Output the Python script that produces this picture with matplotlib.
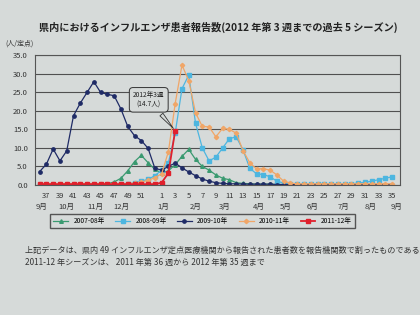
import matplotlib
matplotlib.use("Agg")
import matplotlib.pyplot as plt
from matplotlib.transforms import blended_transform_factory

plt.rcParams['font.family'] = ['Noto Sans CJK JP', 'DejaVu Sans']

# weeks 36..53 then 1..35
weeks = list(range(36, 54)) + list(range(1, 36))

s0708 = [0.1, 0.1, 0.1, 0.1, 0.1, 0.1, 0.1, 0.1, 0.2, 0.2,
         0.3, 0.8, 1.8, 3.8, 6.3, 8.0, 6.0, 4.2, 3.2, 3.8,
         5.5, 7.7, 9.6, 6.9, 5.0, 4.0, 2.7, 1.8, 1.4, 0.6,
         0.4, 0.3, 0.2, 0.2, 0.2, 0.1, 0.1, 0.1, 0.1, 0.1,
         0.1, 0.1, 0.1, 0.1, 0.1, 0.1, 0.1, 0.1, 0.1, 0.1,
         0.1, 0.1, 0.1]
s0809 = [0.1, 0.1, 0.1, 0.1, 0.1, 0.1, 0.1, 0.1, 0.1, 0.1,
         0.1, 0.1, 0.2, 0.3, 0.5, 1.0, 1.5, 2.5, 4.0, 6.0,
         14.0, 26.0, 29.7, 16.7, 10.0, 6.5, 7.5, 10.0, 12.5, 13.0,
         9.5, 4.5, 3.0, 2.8, 2.2, 1.0, 0.5, 0.3, 0.2, 0.2,
         0.2, 0.2, 0.2, 0.2, 0.2, 0.2, 0.3, 0.5, 0.7, 1.0,
         1.4, 1.8, 2.2]
s0910 = [3.6, 5.6, 9.7, 6.5, 9.2, 18.7, 22.1, 25.0, 27.9, 25.0,
         24.5, 24.1, 20.5, 15.8, 13.3, 12.0, 9.9, 4.5, 4.0, 5.0,
         5.9, 4.6, 3.5, 2.5, 1.6, 1.0, 0.6, 0.4, 0.3, 0.3,
         0.2, 0.2, 0.2, 0.2, 0.2, 0.1, 0.1, 0.1, 0.1, 0.1,
         0.1, 0.1, 0.1, 0.1, 0.1, 0.1, 0.1, 0.1, 0.1, 0.1,
         0.1, 0.1, 0.1]
s1011 = [0.3, 0.3, 0.3, 0.3, 0.3, 0.3, 0.3, 0.3, 0.3, 0.3,
         0.3, 0.3, 0.3, 0.3, 0.5, 0.8, 1.2, 2.0, 3.0, 9.0,
         22.0, 32.4, 28.2, 19.5, 15.8, 15.7, 13.0, 15.3, 15.0, 14.0,
         9.3, 6.0, 4.3, 4.4, 4.0, 2.7, 1.0, 0.5, 0.3, 0.3,
         0.3, 0.3, 0.3, 0.3, 0.3, 0.3, 0.3, 0.3, 0.3, 0.3,
         0.3, 0.3, 0.3]
s1112 = [0.2, 0.2, 0.2, 0.2, 0.2, 0.2, 0.2, 0.2, 0.2, 0.2,
         0.2, 0.2, 0.2, 0.2, 0.2, 0.2, 0.2, 0.2, 0.6, 3.2,
         14.7]

labels = ['2007-08年', '2008-09年', '2009-10年', '2010-11年', '2011-12年']
months = ['9月', '10月', '11月', '12月', '1月', '2月', '3月', '4月',
          '5月', '6月', '7月', '8月', '9月']
month_pos = [0.3, 4, 8.2, 12, 18.2, 23, 27.3, 32.4, 36.3, 40.3, 44.8, 48.8, 52.6]

bg = '#d6dad9'
fig = plt.figure(figsize=(4.2, 3.15), dpi=100, facecolor=bg)
ax = fig.add_axes([0.083, 0.413, 0.87, 0.411], facecolor=bg)

x = list(range(len(weeks)))
ax.plot(x, s0708, color='#3a9a70', marker='^', ms=2.6, lw=0.9, label=labels[0])
ax.plot(x, s0809, color='#4db6e0', marker='s', ms=2.3, lw=0.9, label=labels[1])
ax.plot(x, s0910, color='#1f2b66', marker='o', ms=2.4, lw=0.9, label=labels[2])
ax.plot(x, s1011, color='#f0a668', marker='D', ms=2.2, lw=0.9, label=labels[3])
ax.plot(x[:len(s1112)], s1112, color='#e0202c', marker='s', ms=2.4, lw=1.3, label=labels[4])

ax.set_ylim(0, 35)
ax.set_xlim(-0.7, 53.2)
ax.set_yticks(range(0, 36, 5))
ax.set_yticklabels([f'{v:.1f}' for v in range(0, 36, 5)], fontsize=5.5, color='#333333')
ax.grid(axis='y', color='#505050', lw=0.8)
ax.set_axisbelow(True)

tick_weeks = [w for w in weeks if w % 2 == 1 and w != 53]
ax.set_xticks([weeks.index(w) for w in tick_weeks])
ax.set_xticklabels([str(w) for w in tick_weeks], fontsize=5.5, color='#333333')
ax.tick_params(length=0, pad=5)
for sp in ax.spines.values():
    sp.set_color('#555555')
    sp.set_linewidth(0.8)

tr = blended_transform_factory(ax.transData, ax.transAxes)
for m, p in zip(months, month_pos):
    ax.text(p, -0.17, m, transform=tr, fontsize=5.5, color='#333333',
            ha='center', va='center')

ax.annotate('2012年3週\n(14.7人)', xy=(20, 14.7), xytext=(16.1, 23),
            fontsize=4.8, ha='center', va='center', color='#222222',
            bbox=dict(boxstyle='round,pad=0.55', fc=bg, ec='#333333', lw=0.7),
            arrowprops=dict(arrowstyle='wedge,tail_width=0.6', fc=bg,
                            ec='#333333', lw=0.6))

fig.text(0.52, 0.912, '県内におけるインフルエンザ患者報告数(2012 年第 3 週までの過去 5 シーズン)',
         fontsize=7.3, fontweight='bold', ha='center', va='center', color='#222222')
fig.text(0.012, 0.862, '(人/定点)', fontsize=5, ha='left', va='center', color='#333333')

fig.legend(loc='center', bbox_to_anchor=(0.482, 0.298), ncol=5, fontsize=4.8,
           frameon=True, fancybox=False, edgecolor='#333333', facecolor=bg,
           handlelength=2.2, columnspacing=1.6, borderpad=0.5)

fig.text(0.06, 0.205, '上記データは、県内 49 インフルエンザ定点医療機関から報告された患者数を報告機関数で割ったものである',
         fontsize=5.85, ha='left', va='center', color='#333333')
fig.text(0.06, 0.168, '2011-12 年シーズンは、 2011 年第 36 週から 2012 年第 35 週まで',
         fontsize=5.85, ha='left', va='center', color='#333333')

fig.savefig('out.png', dpi=100, facecolor=bg)
